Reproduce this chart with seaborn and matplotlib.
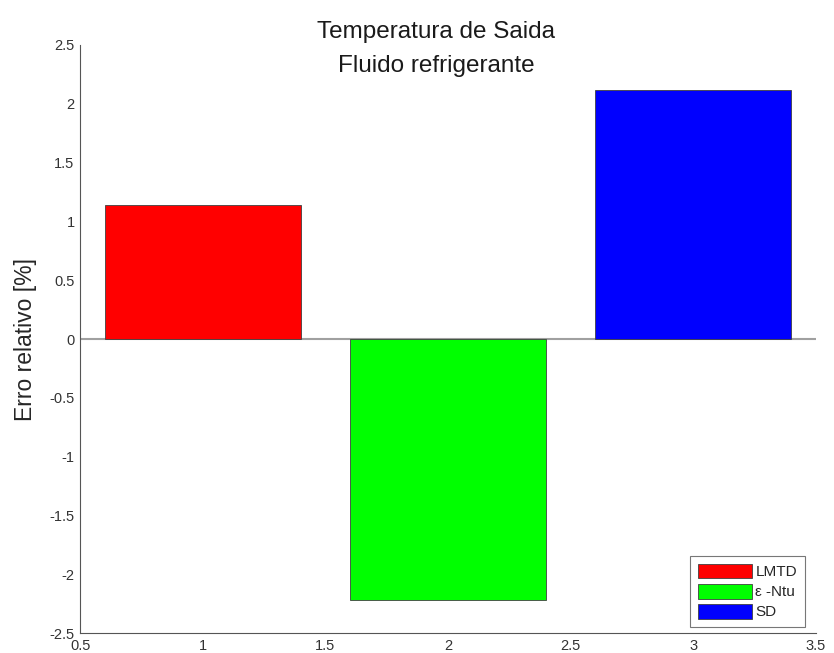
import matplotlib
matplotlib.use("Agg")
import matplotlib.pyplot as plt
import seaborn as sns
import pandas as pd

# data
metodos = ["LMTD", "\u03b5 -Ntu", "SD"]
posicoes = [1, 2, 3]
erro_relativo = [1.14, -2.22, 2.12]
cores = ["#ff0000", "#00ff00", "#0000ff"]

df = pd.DataFrame({"pos": posicoes, "erro": erro_relativo, "metodo": metodos})

sns.set_style("white")
plt.rcParams["font.family"] = ["Liberation Sans", "DejaVu Sans"]

fig = plt.figure(figsize=(8.34, 6.53), dpi=100)
ax = fig.add_axes([0.096, 0.0306, 0.882, 0.9005])

sns.barplot(data=df, x="pos", y="erro", hue="metodo", palette=cores,
            native_scale=True, width=0.8, dodge=False, ax=ax,
            edgecolor="#404040", linewidth=0.6, saturation=1, errorbar=None)

ax.axhline(0, color="#a0a0a0", linewidth=1.5, zorder=0.5)

ax.set_xlim(0.5, 3.5)
ax.set_ylim(-2.5, 2.5)
ax.set_xticks([0.5, 1, 1.5, 2, 2.5, 3, 3.5])
ax.set_xticklabels(["0.5", "1", "1.5", "2", "2.5", "3", "3.5"])
ax.set_yticks([-2.5, -2, -1.5, -1, -0.5, 0, 0.5, 1, 1.5, 2, 2.5])
ax.set_yticklabels(["-2.5", "-2", "-1.5", "-1", "-0.5", "0", "0.5", "1", "1.5", "2", "2.5"])
ax.tick_params(direction="in", length=4, width=0.8, colors="#404040",
               labelsize=10.5, labelcolor="#333333", pad=4)
ax.set_xlabel("")
ax.set_ylabel("Erro relativo [%]", fontsize=16.5, labelpad=9)

sns.despine(ax=ax)
for s in ["left", "bottom"]:
    ax.spines[s].set_color("#555555")
    ax.spines[s].set_linewidth(0.8)

ax.text(0.484, 0.993, "Temperatura de Saida\nFluido refrigerante",
        transform=ax.transAxes, ha="center", va="center", fontsize=17.5,
        linespacing=1.7, color="#1a1a1a")

leg = ax.legend(loc="lower right", bbox_to_anchor=(0.985, 0.01),
                borderaxespad=0, fontsize=11, frameon=True, fancybox=False,
                edgecolor="#555555", handlelength=3.5, handleheight=1.1,
                labelspacing=0.3, borderpad=0.5, handletextpad=0.25)
leg.get_frame().set_linewidth(0.8)

fig.savefig("out.png", dpi=100)
